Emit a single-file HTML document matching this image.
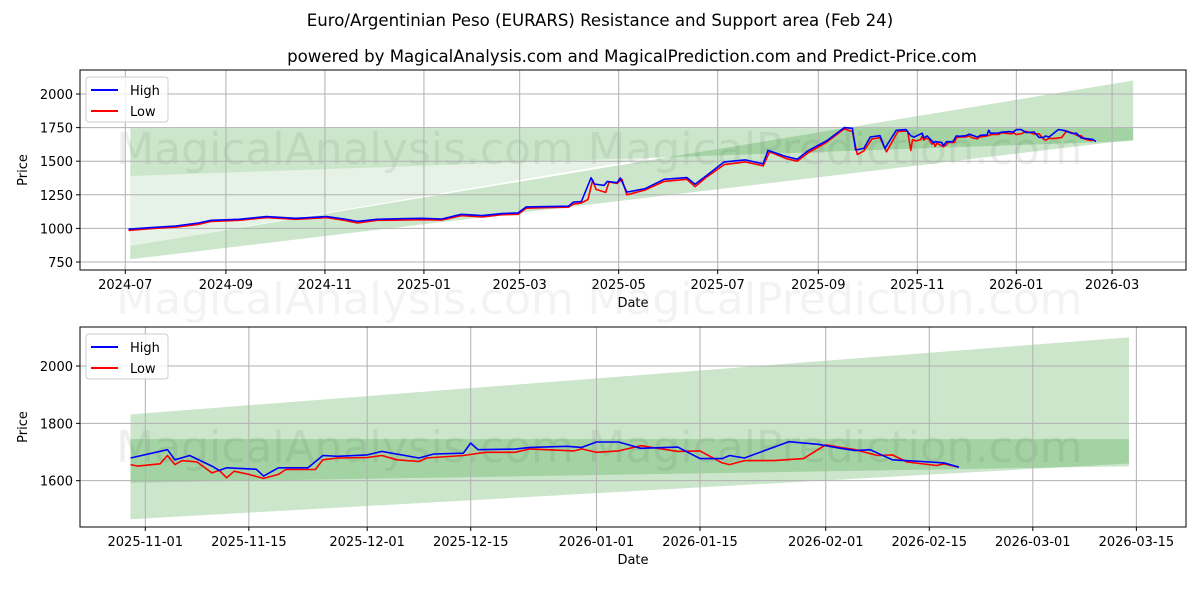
<!DOCTYPE html>
<html><head><meta charset="utf-8"><style>
html,body{margin:0;padding:0;background:#fff;overflow:hidden;width:1200px;height:600px;}
svg{display:block;}
svg text{font-family:"DejaVu Sans","Liberation Sans",sans-serif;}
</style></head><body>
<svg id="chart" width="1200" height="600" viewBox="0 0 1200 600" xmlns="http://www.w3.org/2000/svg">
<rect width="1200" height="600" fill="#fff"/>
<text x="600" y="26" font-size="16.6" text-anchor="middle">Euro/Argentinian Peso (EURARS) Resistance and Support area (Feb 24)</text>
<text x="632" y="62" font-size="16.6" text-anchor="middle">powered by MagicalAnalysis.com and MagicalPrediction.com and Predict-Price.com</text>
<g id="top"></g>
<g id="bot"></g>
</svg>
<script>
// day offsets from 2024-07-01
const hiDates=[2,15,31,45,53,70,87,105,124,135,143,155,170,183,195,207,220,232,242,247,260,273,276,281,287,289,295,297,303,305,309,320,332,346,351,358,369,382,393,396,407,414,421,432,443,448,450,455,459,465,468,475,481,484,486,491,492,494,497,498,499,503,504,506,510,512,514,518,520,525,527,531,532,533,538,540,545,547,549,552,555,560,563,566,567,569,575,579,582,584,586,589,593,596,598];
const hiVals=[994,1005,1018,1040,1060,1068,1088,1075,1088,1070,1052,1068,1072,1075,1070,1105,1095,1110,1115,1160,1162,1165,1195,1200,1377,1330,1320,1350,1340,1375,1270,1295,1365,1378,1328,1392,1495,1510,1480,1580,1535,1515,1580,1650,1750,1745,1583,1595,1680,1690,1595,1730,1735,1690,1679,1708,1673,1688,1651,1636,1645,1640,1616,1645,1645,1688,1685,1690,1702,1679,1693,1696,1731,1708,1710,1716,1720,1716,1735,1735,1713,1717,1677,1677,1688,1679,1736,1727,1713,1705,1708,1673,1667,1662,1647];
const loDates=[2,15,31,45,53,70,87,105,124,135,143,155,170,183,195,207,220,232,242,247,260,273,276,281,285,288,290,296,298,303,306,309,320,332,346,351,358,369,382,393,397,407,414,421,432,443,448,451,455,460,465,469,476,482,484,485,486,487,490,491,492,493,495,497,498,499,500,502,504,506,507,511,512,514,518,520,522,525,526,531,534,538,540,546,547,549,552,555,560,563,566,567,569,573,577,580,582,584,587,589,591,595,596,598];
const loVals=[985,998,1010,1030,1052,1060,1080,1068,1080,1060,1040,1060,1062,1065,1062,1095,1085,1102,1105,1150,1155,1158,1180,1190,1215,1360,1290,1268,1345,1335,1365,1250,1285,1350,1365,1310,1380,1475,1495,1465,1570,1520,1500,1565,1640,1740,1720,1550,1575,1665,1675,1570,1720,1725,1580,1660,1656,1651,1659,1688,1656,1670,1665,1627,1636,1610,1633,1622,1608,1622,1639,1639,1673,1679,1681,1688,1673,1667,1679,1688,1699,1699,1711,1704,1711,1699,1704,1722,1702,1704,1662,1656,1670,1670,1677,1725,1716,1708,1688,1690,1665,1653,1659,1647,1627];
// band polygons: [day, value] vertices
const bandSupport=[[3,770],[621,1660],[621,2100],[3,870]];
const bandResist=[[3,1390],[621,1650],[621,1745],[3,1745]];
const bandLight=[[3,870],[3,1390],[323,1524]];
const topYTicks=[750,1000,1250,1500,1750,2000];
const topXTickDays=[0,62,123,184,243,304,365,427,488,549,608];
const topXTickLabels=["2024-07","2024-09","2024-11","2025-01","2025-03","2025-05","2025-07","2025-09","2025-11","2026-01","2026-03"];
const botYTicks=[1600,1800,2000];
const botXTickDays=[488,502,518,532,549,563,580,594,608,622];
const botXTickLabels=["2025-11-01","2025-11-15","2025-12-01","2025-12-15","2026-01-01","2026-01-15","2026-02-01","2026-02-15","2026-03-01","2026-03-15"];

const NS="http://www.w3.org/2000/svg";
function mk(p,tag,attrs){const e=document.createElementNS(NS,tag);for(const k in attrs)e.setAttribute(k,attrs[k]);p.appendChild(e);return e;}

function panel(g,cfg){
  const {L,R,T,B,x,y,yTicks,xDays,xLabels,minDay,name}=cfg;
  const clip=mk(g,'clipPath',{id:'clip'+name});
  mk(clip,'rect',{x:L,y:T,width:R-L,height:B-T});
  const bx=Math.max(L,x(Math.max(3,minDay)));
  const clip2=mk(g,'clipPath',{id:'bclip'+name});
  mk(clip2,'rect',{x:bx,y:T,width:R-bx,height:B-T});
  const body=mk(g,'g',{'clip-path':'url(#clip'+name+')'});
  
  
  [[345,'MagicalAnalysis.com'],[835,'MagicalPrediction.com']].forEach(w=>{
    const t=mk(body,'text',{x:w[0],y:cfg.wmY,'font-size':44,'text-anchor':'middle',fill:'#999','fill-opacity':0.17});
    t.textContent=w[1];
    
    
  });
  const bands=mk(body,'g',{'clip-path':'url(#bclip'+name+')'});
  [[bandLight,0.1,'light-zone'],[bandSupport,0.2,'support-band'],[bandResist,0.2,'resistance-band']].forEach(b=>{
    const pts=b[0].map(p=>x(p[0])+','+y(p[1])).join(' ');
    const pg=mk(bands,'polygon',{points:pts,fill:'rgb(0,128,0)','fill-opacity':b[1]});
    
    
  });
  yTicks.forEach(v=>{mk(body,'line',{x1:L,x2:R,y1:y(v),y2:y(v),stroke:'#b0b0b0','stroke-width':1});});
  xDays.forEach(d=>{mk(body,'line',{x1:x(d),x2:x(d),y1:T,y2:B,stroke:'#b0b0b0','stroke-width':1});});
  function series(ds,vs,col,nm){
    let s='';ds.forEach((d,i)=>{if(d>=minDay)s+=(s?'L':'M')+x(d).toFixed(1)+','+y(vs[i]).toFixed(1);});
    const p=mk(body,'path',{d:s,fill:'none',stroke:col,'stroke-width':1.6,'stroke-linejoin':'round'});
    
    
  }
  series(loDates,loVals,'#ff0000','low-line');
  series(hiDates,hiVals,'#0000ff','high-line');
  mk(g,'rect',{x:L,y:T,width:R-L,height:B-T,fill:'none',stroke:'#000','stroke-width':1});
  yTicks.forEach(v=>{
    mk(g,'line',{x1:L-4,x2:L,y1:y(v),y2:y(v),stroke:'#000'});
    const t=mk(g,'text',{x:L-7,y:y(v)+5,'font-size':13,'text-anchor':'end'});t.textContent=v;
    
    
  });
  xDays.forEach((d,i)=>{
    mk(g,'line',{x1:x(d),x2:x(d),y1:B,y2:B+4,stroke:'#000'});
    const t=mk(g,'text',{x:x(d),y:B+19,'font-size':13,'text-anchor':'middle'});t.textContent=xLabels[i];
    
    
  });
  const xt=mk(g,'text',{x:(L+R)/2,y:B+37,'font-size':13,'text-anchor':'middle'});xt.textContent='Date';
  
  
  const yt=mk(g,'text',{x:0,y:0,'font-size':13,'text-anchor':'middle',transform:'translate(27,'+((T+B)/2)+') rotate(-90)'});yt.textContent='Price';
  
  
  const lg=mk(g,'g',{});
  
  
  mk(lg,'rect',{x:L+6,y:T+7,width:82,height:45,rx:3,fill:'#fff','fill-opacity':0.8,stroke:'#ccc'});
  [['High','#0000ff',T+20],['Low','#ff0000',T+41]].forEach(e=>{
    const it=mk(lg,'g',{});
    
    
    mk(it,'line',{x1:L+11,x2:L+38,y1:e[2],y2:e[2],stroke:e[1],'stroke-width':2});
    const t=mk(it,'text',{x:L+50,y:e[2]+5,'font-size':13});t.textContent=e[0];
  });
}
panel(document.getElementById('top'),{L:80,R:1186,T:70,B:270,name:'top',minDay:0,wmY:164,
  x:d=>125.3+d*1.623, y:v=>94+(2000-v)*0.1344,
  yTicks:topYTicks,xDays:topXTickDays,xLabels:topXTickLabels});
panel(document.getElementById('bot'),{L:80,R:1186,T:327,B:527,name:'bottom',minDay:486,wmY:462,
  x:d=>145.3+(d-488)*7.396, y:v=>366+(2000-v)*0.2867,
  yTicks:botYTicks,xDays:botXTickDays,xLabels:botXTickLabels});
[[345,'MagicalAnalysis.com'],[835,'MagicalPrediction.com']].forEach(w=>{
  const t=mk(document.getElementById('chart'),'text',{x:w[0],y:314,'font-size':44,'text-anchor':'middle',fill:'#999','fill-opacity':0.12});
  t.textContent=w[1];
  
  
});
</script>
</body></html>
